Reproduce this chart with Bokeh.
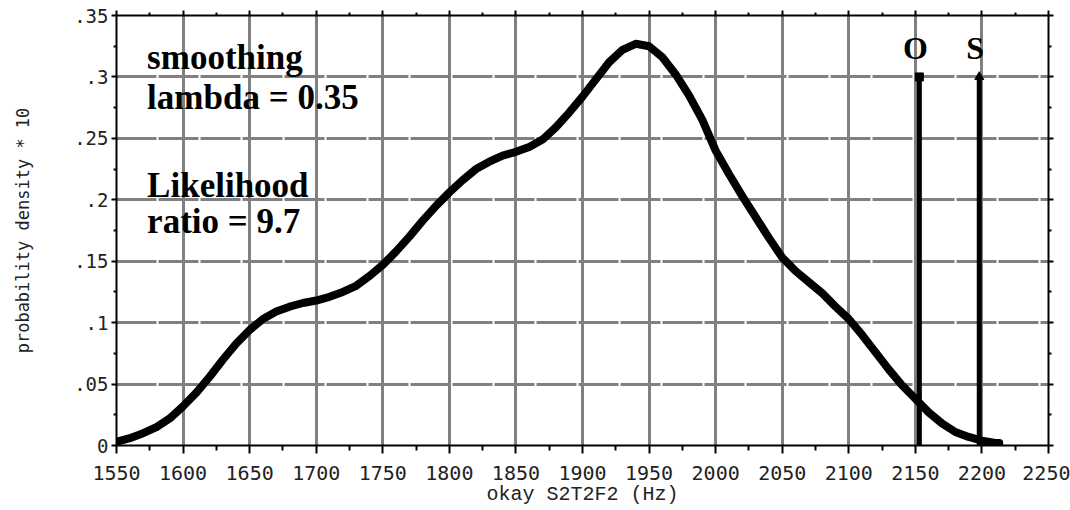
from bokeh.plotting import figure
from bokeh.models import LinearAxis, FixedTicker, Label, Range1d
from bokeh.core.properties import value
from bokeh.embed import file_html
from bokeh.resources import INLINE

# ---- data ----
freq_hz = [1550, 1560, 1570, 1580, 1590, 1600, 1610, 1620, 1630, 1640,
           1650, 1660, 1670, 1680, 1690, 1700, 1710, 1720, 1730, 1740,
           1750, 1760, 1770, 1780, 1790, 1800, 1810, 1820, 1830, 1840,
           1850, 1860, 1870, 1880, 1890, 1900, 1910, 1920, 1930, 1940,
           1950, 1960, 1970, 1980, 1990, 2000, 2010, 2020, 2030, 2040,
           2050, 2060, 2070, 2080, 2090, 2100, 2110, 2120, 2130, 2140,
           2150, 2160, 2170, 2180, 2190, 2200, 2210, 2213]
density = [0.003, 0.006, 0.010, 0.015, 0.022, 0.032, 0.043, 0.056, 0.070, 0.083,
           0.094, 0.103, 0.109, 0.113, 0.116, 0.118, 0.121, 0.125, 0.130, 0.138,
           0.147, 0.158, 0.170, 0.183, 0.195, 0.206, 0.216, 0.225, 0.231, 0.236,
           0.239, 0.243, 0.249, 0.259, 0.271, 0.284, 0.298, 0.312, 0.322, 0.327,
           0.325, 0.316, 0.302, 0.285, 0.265, 0.240, 0.221, 0.203, 0.186, 0.169,
           0.153, 0.142, 0.133, 0.124, 0.113, 0.103, 0.090, 0.076, 0.062, 0.049,
           0.038, 0.027, 0.018, 0.011, 0.007, 0.004, 0.002, 0.002]

x_ticks = [1550, 1600, 1650, 1700, 1750, 1800, 1850, 1900, 1950, 2000, 2050, 2100, 2150, 2200, 2250]
x_minor = [1575, 1625, 1675, 1725, 1775, 1825, 1875, 1925, 1975, 2025, 2075, 2125, 2175, 2225]
y_ticks = [0.0, 0.05, 0.1, 0.15, 0.2, 0.25, 0.3, 0.35]
y_tick_labels = ["0", ".05", ".1", ".15", ".2", ".25", ".3", ".35"]
y_minor = [0.025, 0.075, 0.125, 0.175, 0.225, 0.275, 0.325]

marker_names = ["O", "S"]
marker_hz = [2153, 2198]
marker_top = [0.30, 0.30]

p = figure(width=1070, height=510,
           x_range=Range1d(1550, 2250), y_range=Range1d(0, 0.35),
           output_backend="svg", toolbar_location=None,
           min_border_left=116, min_border_right=22,
           min_border_top=15, min_border_bottom=65,
           x_axis_label="okay S2T2F2 (Hz)",
           y_axis_label="probability density * 10")
p.outline_line_color = None
p.background_fill_color = "white"
p.border_fill_color = "white"

xt = FixedTicker(ticks=x_ticks, minor_ticks=x_minor)
yt = FixedTicker(ticks=y_ticks, minor_ticks=y_minor)


def style_axis(ax, major_out, minor_out):
    ax.axis_line_width = 2
    ax.axis_line_color = "black"
    ax.major_tick_line_width = 2
    ax.major_tick_line_color = "black"
    ax.major_tick_out = major_out
    ax.major_tick_in = 0
    ax.minor_tick_line_width = 2
    ax.minor_tick_line_color = "black"
    ax.minor_tick_out = minor_out
    ax.minor_tick_in = 0


xa = p.xaxis[0]
xa.ticker = xt
style_axis(xa, 8, 5)
xa.major_label_text_font = "DejaVu Sans Mono"
xa.major_label_text_font_size = "20px"
xa.major_label_text_color = "#222222"
xa.major_label_standoff = 12
xa.axis_label_text_font = "Liberation Mono"
xa.axis_label_text_font_size = "20px"
xa.axis_label_text_font_style = "normal"
xa.axis_label_text_color = "#222222"
xa.axis_label_standoff = 0

ya = p.yaxis[0]
ya.ticker = yt
style_axis(ya, 5, 3)
ya.major_label_overrides = dict(zip(y_ticks, y_tick_labels))
ya.major_label_text_font = "DejaVu Sans Mono"
ya.major_label_text_font_size = "19px"
ya.major_label_text_color = "#222222"
ya.major_label_standoff = 3
ya.axis_label_text_font = "DejaVu Sans Mono"
ya.axis_label_text_font_size = "17px"
ya.axis_label_text_font_style = "normal"
ya.axis_label_text_color = "#222222"
ya.axis_label_standoff = 38

top = LinearAxis(ticker=FixedTicker(ticks=x_ticks, minor_ticks=x_minor),
                 major_label_overrides={t: "" for t in x_ticks},
                 major_label_text_font_size="4px", major_label_standoff=0)
style_axis(top, 5, 3)
p.add_layout(top, "above")
right = LinearAxis(ticker=FixedTicker(ticks=y_ticks, minor_ticks=y_minor),
                   major_label_overrides={t: "" for t in y_ticks},
                   major_label_text_font_size="4px", major_label_standoff=0)
style_axis(right, 5, 3)
p.add_layout(right, "right")

p.xgrid.ticker = xt
p.ygrid.ticker = yt
p.xgrid.grid_line_color = "#808080"
p.ygrid.grid_line_color = "#808080"
p.xgrid.grid_line_width = 3
p.ygrid.grid_line_width = 3
p.ygrid.grid_line_dash = "40 2"

# O / S markers
p.segment(x0=marker_hz, y0=[0, 0], x1=marker_hz, y1=marker_top,
          line_width=5, line_color="black")
p.scatter(x=marker_hz[:1], y=marker_top[:1], marker="square", size=8, color="black")
p.scatter(x=marker_hz[1:], y=marker_top[1:], marker="triangle", size=9, color="black")
p.text(x=marker_hz, y=[0.3235, 0.3235], text=marker_names, x_offset=-4,
       text_font=value("Liberation Serif"), text_font_style="bold",
       text_font_size="32px", text_align="center", text_baseline="alphabetic",
       text_color="black")

# density curve
p.line(freq_hz, density, line_width=8, line_color="black",
       line_join="round", line_cap="round")

for txt, yy in [("smoothing", 0.3155), ("lambda = 0.35", 0.2835),
                ("Likelihood", 0.212), ("ratio = 9.7", 0.182)]:
    p.add_layout(Label(x=1573, y=yy, text=txt, text_font="Liberation Serif",
                       text_font_style="bold", text_font_size="35px",
                       text_baseline="alphabetic", text_color="black"))

open("out.html", "w").write(file_html(p, INLINE))
